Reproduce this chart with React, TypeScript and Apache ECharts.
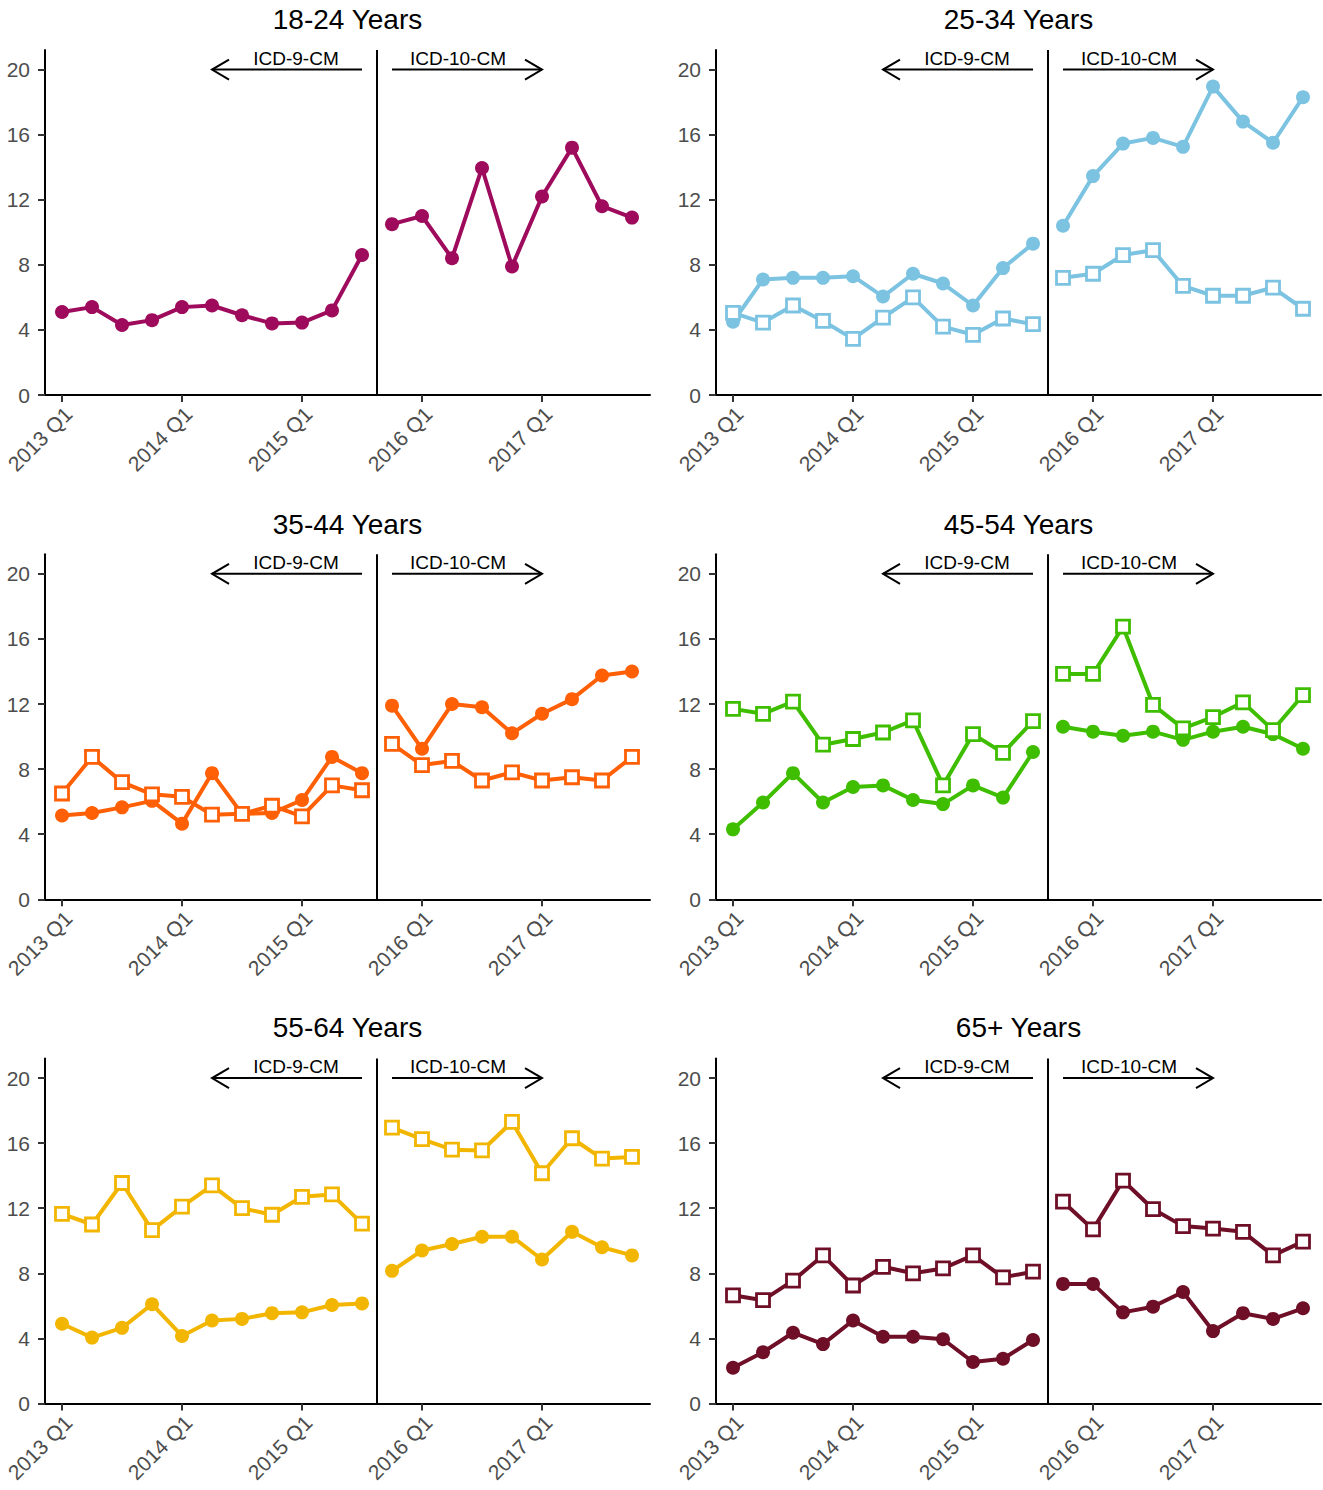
import React, { useEffect, useRef } from "react";
import * as echarts from "echarts";

// ---------- data ----------
const QUARTERS = [
  "2013 Q1", "2013 Q2", "2013 Q3", "2013 Q4",
  "2014 Q1", "2014 Q2", "2014 Q3", "2014 Q4",
  "2015 Q1", "2015 Q2", "2015 Q3", "2015 Q4",
  "2016 Q1", "2016 Q2", "2016 Q3", "2016 Q4",
  "2017 Q1", "2017 Q2", "2017 Q3", "2017 Q4",
];
const X_LABEL_INDEXES = [0, 4, 8, 12, 16];
const Y_TICKS = [0, 4, 8, 12, 16, 20];
const ICD9_COUNT = 11; // 2013 Q1 .. 2015 Q3 coded with ICD-9-CM

const PANEL_TITLES = ["18-24 Years", "25-34 Years", "35-44 Years", "45-54 Years", "55-64 Years", "65+ Years"];
const PANEL_COLORS = ["#9E0A5C", "#7CC3E2", "#FF5F05", "#3FBE00", "#F2B600", "#6E0F27"];

const CIRCLES_18_24 = [5.1, 5.4, 4.3, 4.6, 5.4, 5.5, 4.9, 4.4, 4.45, 5.2, 8.6, 10.5, 11.0, 8.4, 13.95, 7.9, 12.2, 15.2, 11.6, 10.9];
const SQUARES_18_24: number[] = [];

const CIRCLES_25_34 = [4.5, 7.1, 7.2, 7.2, 7.3, 6.05, 7.45, 6.85, 5.5, 7.8, 9.3, 10.4, 13.45, 15.45, 15.8, 15.25, 18.95, 16.8, 15.5, 18.3];
const SQUARES_25_34 = [5.05, 4.45, 5.5, 4.55, 3.45, 4.75, 6.0, 4.2, 3.7, 4.7, 4.35, 7.2, 7.45, 8.6, 8.9, 6.7, 6.1, 6.1, 6.6, 5.3];

const CIRCLES_35_44 = [5.15, 5.3, 5.65, 6.05, 4.65, 7.75, 5.25, 5.3, 6.1, 8.75, 7.75, 11.9, 9.25, 12.0, 11.8, 10.2, 11.4, 12.3, 13.75, 14.0];
const SQUARES_35_44 = [6.5, 8.75, 7.2, 6.45, 6.3, 5.2, 5.25, 5.75, 5.1, 7.0, 6.7, 9.55, 8.25, 8.5, 7.3, 7.8, 7.3, 7.5, 7.3, 8.75];

const CIRCLES_45_54 = [4.3, 5.95, 7.75, 5.95, 6.9, 7.0, 6.1, 5.85, 7.0, 6.25, 9.05, 10.6, 10.3, 10.05, 10.3, 9.8, 10.3, 10.6, 10.15, 9.25];
const SQUARES_45_54 = [11.7, 11.4, 12.15, 9.5, 9.85, 10.25, 11.0, 7.0, 10.15, 9.0, 10.95, 13.85, 13.85, 16.75, 11.95, 10.5, 11.2, 12.1, 10.4, 12.55];

const CIRCLES_55_64 = [4.9, 4.05, 4.65, 6.1, 4.15, 5.1, 5.2, 5.55, 5.6, 6.05, 6.15, 8.15, 9.4, 9.8, 10.25, 10.25, 8.85, 10.55, 9.6, 9.1];
const SQUARES_55_64 = [11.65, 11.0, 13.55, 10.65, 12.1, 13.4, 12.0, 11.6, 12.7, 12.85, 11.05, 16.95, 16.25, 15.6, 15.55, 17.3, 14.15, 16.3, 15.05, 15.15];

const CIRCLES_65_PLUS = [2.2, 3.15, 4.35, 3.65, 5.1, 4.1, 4.1, 3.95, 2.55, 2.75, 3.9, 7.35, 7.35, 5.6, 5.95, 6.85, 4.45, 5.55, 5.2, 5.85];
const SQUARES_65_PLUS = [6.65, 6.35, 7.55, 9.1, 7.25, 8.4, 8.0, 8.3, 9.1, 7.75, 8.1, 12.4, 10.7, 13.7, 11.95, 10.9, 10.75, 10.55, 9.1, 9.95];

const PANEL_CIRCLES = [CIRCLES_18_24, CIRCLES_25_34, CIRCLES_35_44, CIRCLES_45_54, CIRCLES_55_64, CIRCLES_65_PLUS];
const PANEL_SQUARES = [SQUARES_18_24, SQUARES_25_34, SQUARES_35_44, SQUARES_45_54, SQUARES_55_64, SQUARES_65_PLUS];

// annotation positions (in data units)
const DIVIDER_X = 10.5;
const ARROW_Y = 20;
const ICD9_ARROW = [10, 5];
const ICD10_ARROW = [11, 16];
const ICD9_LABEL_X = 7.8;
const ICD10_LABEL_X = 13.2;
const ICD9_LABEL = "ICD-9-CM";
const ICD10_LABEL = "ICD-10-CM";

// ---------- layout ----------
const W = 1323;
const H = 1490;
const FONT = "'Liberation Sans', Arial, Helvetica, sans-serif";
const X_MIN = -0.567;
const X_MAX = 19.6;
const Y_MAX = 21.2;
const COL_LEFT = [45, 716];
const ROW_TOP = [50, 554.3, 1058.5];
const GRID_W = 605;
const GRID_H = 345;
const TITLE_Y = [19.5, 524, 1027.5];

function segments(values: number[]) {
  const a = values.slice(0, ICD9_COUNT).map((v, i) => [i, v]);
  const b = values.slice(ICD9_COUNT).map((v, i) => [i + ICD9_COUNT, v]);
  return [a, b];
}

function buildOption() {
  const grid: any[] = [];
  const xAxis: any[] = [];
  const yAxis: any[] = [];
  const series: any[] = [];
  const graphic: any[] = [];

  PANEL_TITLES.forEach((title, k) => {
    const col = k % 2;
    const row = Math.floor(k / 2);
    const color = PANEL_COLORS[k];
    grid.push({
      left: COL_LEFT[col],
      top: ROW_TOP[row],
      width: GRID_W,
      height: GRID_H,
      containLabel: false,
      outerBoundsMode: "none",
    });
    xAxis.push({
      type: "value",
      gridIndex: k,
      min: X_MIN,
      max: X_MAX,
      axisLine: { show: true, onZero: false, lineStyle: { color: "#000", width: 2 } },
      axisTick: { show: true, customValues: X_LABEL_INDEXES, length: 7, lineStyle: { color: "#333", width: 2 } },
      axisLabel: { show: false },
      splitLine: { show: false },
    });
    yAxis.push({
      type: "value",
      gridIndex: k,
      min: 0,
      max: Y_MAX,
      axisLine: { show: true, onZero: false, lineStyle: { color: "#000", width: 2 } },
      axisTick: { show: true, customValues: Y_TICKS, length: 7, lineStyle: { color: "#333", width: 2 } },
      axisLabel: { customValues: Y_TICKS, margin: 15, fontSize: 21, color: "#4D4D4D", fontFamily: FONT },
      splitLine: { show: false },
    });

    graphic.push({
      type: "text",
      x: COL_LEFT[col] + GRID_W / 2,
      y: TITLE_Y[row],
      silent: true,
      style: {
        text: title,
        fill: "#000",
        fontSize: 28,
        fontFamily: FONT,
        align: "center",
        verticalAlign: "middle",
        textAlign: "center",
        textVerticalAlign: "middle",
      },
    });

    const lineBase = {
      type: "line",
      xAxisIndex: k,
      yAxisIndex: k,
      symbol: "none",
      showSymbol: false,
      silent: true,
      z: 2,
      lineStyle: { color, width: 4, cap: "round", join: "round" },
    };
    const circles = PANEL_CIRCLES[k];
    const squares = PANEL_SQUARES[k];
    segments(circles).forEach((seg) => series.push({ ...lineBase, data: seg }));
    if (squares.length) {
      segments(squares).forEach((seg) => series.push({ ...lineBase, data: seg }));
    }

    series.push({
      type: "scatter",
      xAxisIndex: k,
      yAxisIndex: k,
      silent: true,
      z: 3,
      symbol: "circle",
      symbolSize: 14,
      itemStyle: { color, opacity: 1 },
      data: circles.map((v, i) => [i, v]),
    });
    if (squares.length) {
      series.push({
        type: "scatter",
        xAxisIndex: k,
        yAxisIndex: k,
        silent: true,
        z: 4,
        symbol: "rect",
        symbolSize: 13,
        itemStyle: { color: "#fff", borderColor: color, borderWidth: 2.8, opacity: 1 },
        data: squares.map((v, i) => [i, v]),
      });
    }

    series.push({
      type: "custom",
      xAxisIndex: k,
      yAxisIndex: k,
      silent: true,
      z: 5,
      clip: false,
      data: [[DIVIDER_X, ARROW_Y]],
      renderItem: (_params: any, api: any) => {
        const top = api.coord([DIVIDER_X, Y_MAX]);
        const bot = api.coord([DIVIDER_X, 0]);
        const a9s = api.coord([ICD9_ARROW[0], ARROW_Y]);
        const a9e = api.coord([ICD9_ARROW[1], ARROW_Y]);
        const a10s = api.coord([ICD10_ARROW[0], ARROW_Y]);
        const a10e = api.coord([ICD10_ARROW[1], ARROW_Y]);
        const l9 = api.coord([ICD9_LABEL_X, ARROW_Y]);
        const l10 = api.coord([ICD10_LABEL_X, ARROW_Y]);
        const hx = 17;
        const hy = 10;
        const arrowStyle = { stroke: "#000", lineWidth: 2, fill: "none" };
        const textStyle = (text: string, p: number[]) => ({
          type: "text",
          x: p[0],
          y: p[1] - 2,
          style: {
            text,
            fill: "#000",
            fontSize: 19,
            fontFamily: FONT,
            align: "center",
            verticalAlign: "bottom",
            textAlign: "center",
            textVerticalAlign: "bottom",
          },
        });
        const xLabels = X_LABEL_INDEXES.map((qi) => {
          const p = api.coord([qi, 0]);
          return {
            type: "text",
            x: p[0] - 1,
            y: p[1] + 8,
            rotation: Math.PI / 4,
            style: {
              text: QUARTERS[qi],
              fill: "#4D4D4D",
              fontSize: 21,
              fontFamily: FONT,
              align: "right",
              verticalAlign: "top",
              textAlign: "right",
              textVerticalAlign: "top",
            },
          };
        });
        return {
          type: "group",
          children: [
            { type: "line", shape: { x1: top[0], y1: top[1], x2: bot[0], y2: bot[1] }, style: { stroke: "#000", lineWidth: 2 } },
            { type: "line", shape: { x1: a9s[0], y1: a9s[1], x2: a9e[0], y2: a9e[1] }, style: arrowStyle },
            {
              type: "polyline",
              shape: { points: [[a9e[0] + hx, a9e[1] - hy], [a9e[0], a9e[1]], [a9e[0] + hx, a9e[1] + hy]] },
              style: arrowStyle,
            },
            { type: "line", shape: { x1: a10s[0], y1: a10s[1], x2: a10e[0], y2: a10e[1] }, style: arrowStyle },
            {
              type: "polyline",
              shape: { points: [[a10e[0] - hx, a10e[1] - hy], [a10e[0], a10e[1]], [a10e[0] - hx, a10e[1] + hy]] },
              style: arrowStyle,
            },
            textStyle(ICD9_LABEL, l9),
            textStyle(ICD10_LABEL, l10),
            ...xLabels,
          ],
        };
      },
    });
  });

  return {
    animation: false,
    backgroundColor: "#fff",
    textStyle: { fontFamily: FONT },
    grid,
    xAxis,
    yAxis,
    series,
    graphic,
  };
}

export default function App() {
  const ref = useRef<HTMLDivElement>(null);
  useEffect(() => {
    document.body.style.margin = "0";
    if (!ref.current) return;
    const chart = echarts.init(ref.current, undefined, { renderer: "svg" });
    chart.setOption(buildOption() as any);
    return () => chart.dispose();
  }, []);
  return <div ref={ref} style={{ width: W, height: H, background: "#fff" }} />;
}
